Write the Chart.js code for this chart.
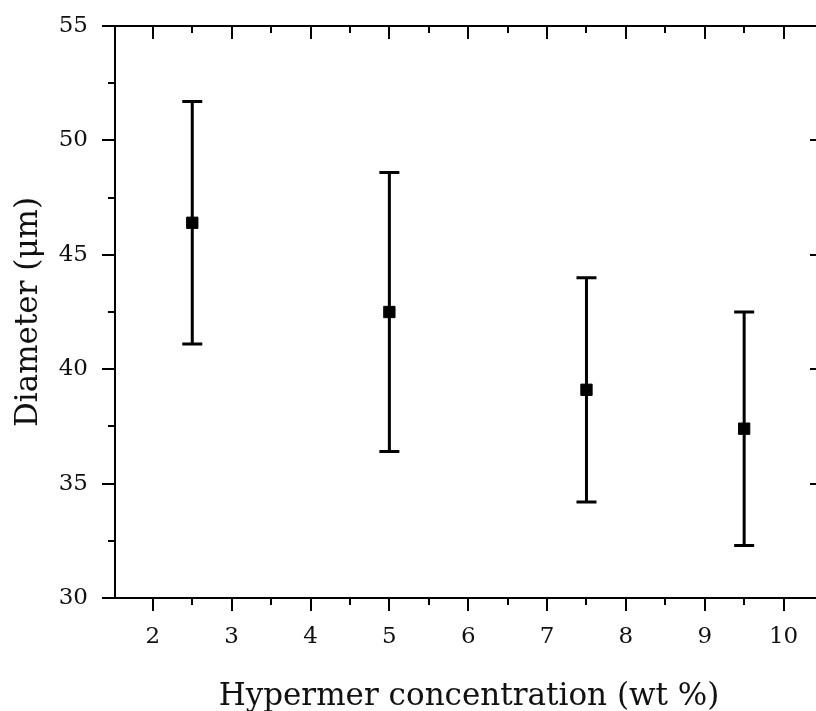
<!DOCTYPE html>
<html>
<head>
<meta charset="utf-8">
<script src="https://cdn.jsdelivr.net/npm/chart.js@4/dist/chart.umd.min.js"></script>
<style>
  html, body { margin: 0; padding: 0; background: #fff; overflow: hidden; }
  #wrap { width: 832px; height: 711px; }
</style>
</head>
<body>
<div id="wrap"><canvas id="diamChart"></canvas></div>
<script>
// data
const concentrations = [2.5, 5, 7.5, 9.5];          // wt %
const diameters = [46.4, 42.5, 39.1, 37.4];         // mean, µm
const diameterErr = [5.3, 6.1, 4.9, 5.1];           // +/- µm

const xTicks = [2, 3, 4, 5, 6, 7, 8, 9, 10];
const yTicks = [30, 35, 40, 45, 50, 55];

const FONT = "'DejaVu Serif', serif";

// error bars, drawn behind the squares
const errorBars = {
  id: 'errorBars',
  beforeDatasetsDraw(chart) {
    const { ctx, scales: { x, y } } = chart;
    ctx.save();
    ctx.strokeStyle = '#000';
    ctx.lineWidth = 3;
    concentrations.forEach((c, i) => {
      const px = x.getPixelForValue(c);
      const top = y.getPixelForValue(diameters[i] + diameterErr[i]);
      const bot = y.getPixelForValue(diameters[i] - diameterErr[i]);
      ctx.beginPath();
      ctx.moveTo(px, top); ctx.lineTo(px, bot);
      ctx.moveTo(px - 10, top); ctx.lineTo(px + 10, top);
      ctx.moveTo(px - 10, bot); ctx.lineTo(px + 10, bot);
      ctx.stroke();
    });
    ctx.restore();
  }
};

// Origin-style frame: outward ticks left/bottom, inward ticks top/right
const frame = {
  id: 'frame',
  afterDraw(chart) {
    const { ctx, chartArea: a, scales: { x, y } } = chart;
    ctx.save();
    ctx.strokeStyle = '#000';
    ctx.lineWidth = 2;
    ctx.strokeRect(a.left, a.top, a.right - a.left, a.bottom - a.top);
    ctx.beginPath();
    for (let v = 1.5; v <= 10.5; v += 0.5) {
      const px = Math.round(x.getPixelForValue(v));
      if (px < a.left - 1 || px > a.right + 1) continue;
      const len = Number.isInteger(v) ? 13 : 7;
      ctx.moveTo(px, a.bottom); ctx.lineTo(px, a.bottom + len);
      ctx.moveTo(px, a.top); ctx.lineTo(px, a.top + len);
    }
    for (let v = 30; v <= 55; v += 2.5) {
      const py = Math.round(y.getPixelForValue(v));
      const len = v % 5 === 0 ? 13 : 7;
      ctx.moveTo(a.left, py); ctx.lineTo(a.left - len, py);
      ctx.moveTo(a.right, py); ctx.lineTo(a.right - len, py);
    }
    ctx.stroke();
    ctx.restore();
  }
};

new Chart(document.getElementById('diamChart'), {
  type: 'scatter',
  data: {
    datasets: [{
      label: 'Diameter',
      data: concentrations.map((c, i) => ({ x: c, y: diameters[i] })),
      pointStyle: 'rect',
      pointRadius: 8,
      pointHoverRadius: 8,
      backgroundColor: '#000',
      borderColor: '#000',
      borderWidth: 1
    }]
  },
  options: {
    responsive: true,
    maintainAspectRatio: false,
    animation: false,
    layout: { padding: { top: 26, right: 8, bottom: 0, left: 0 } },
    plugins: {
      legend: { display: false },
      tooltip: { enabled: false }
    },
    scales: {
      x: {
        type: 'linear',
        min: 1.52,
        max: 10.5,
        afterBuildTicks: s => { s.ticks = xTicks.map(v => ({ value: v })); },
        afterFit: s => { s.height = 113; },
        grid: { display: false, drawTicks: false },
        border: { display: false },
        ticks: { color: '#111', font: { family: FONT, size: 23 }, padding: 25 },
        title: {
          display: true,
          text: 'Hypermer concentration (wt %)',
          color: '#111',
          font: { family: FONT, size: 31 },
          padding: { top: 16, bottom: -5 }
        }
      },
      y: {
        min: 30,
        max: 55,
        afterBuildTicks: s => { s.ticks = yTicks.map(v => ({ value: v })); },
        afterFit: s => { s.width = 115; s.paddingTop = 0; s.paddingBottom = 0; },
        grid: { display: false, drawTicks: false },
        border: { display: false },
        ticks: { color: '#111', font: { family: FONT, size: 23 }, padding: 27 },
        title: {
          display: true,
          text: 'Diameter (μm)',
          color: '#111',
          font: { family: FONT, size: 31 },
          padding: { top: 10, bottom: 0 }
        }
      }
    }
  },
  plugins: [errorBars, frame]
});
</script>
</body>
</html>
